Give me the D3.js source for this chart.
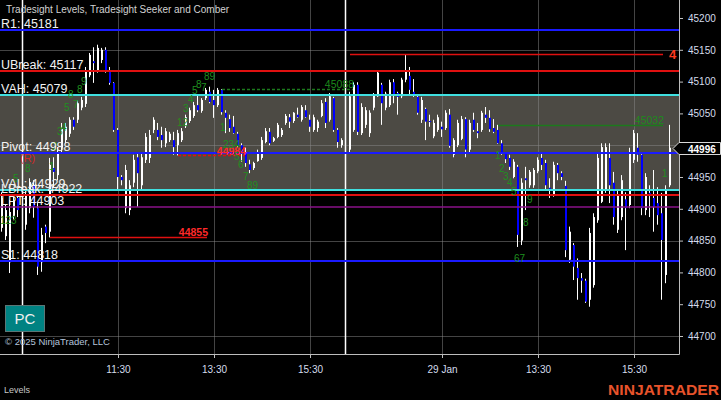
<!DOCTYPE html>
<html>
<head>
<meta charset="utf-8">
<script src="https://cdn.jsdelivr.net/npm/d3@7/dist/d3.min.js"></script>
<style>
html,body{margin:0;padding:0;background:#000;overflow:hidden}
svg{display:block;font-family:Arial,"Liberation Sans",sans-serif}
</style>
</head>
<body>
<svg id="chart" width="721" height="400"></svg>
<script>
// ---------------- data ----------------
const barIndex = [0,1,2,3,4,6,7,8,9,10,11,12,13,14,15,16,17,18,19,20,21,22,23,24,25,26,27,28,29,30,31,32,33,34,35,36,37,38,39,40,41,42,43,44,45,46,47,48,49,50,51,52,53,54,55,56,57,58,59,60,61,62,63,64,65,66,67,68,69,70,71,72,73,74,75,76,77,78,79,80,81,82,83,84,85,87,88,89,90,91,92,93,94,95,96,97,98,99,100,101,102,103,104,105,106,107,108,109,110,111,112,113,114,115,116,117,118,119,120,121,122,123,124,125,126,127,128,129,130,131,132,133,134,135,136,137,138,139,140,141,142,143,144,145,146,147,148,149,150,151,152,153,154,155,156,157,158,159,160,161,162,163,164,165,166,167];
const barOpen  = [44870,44857,44816,44889,44917,44875,44901,44937,44901,44816,44872,44864,44964,44953,44996,45008,45018,45040,45040,45059,45065,45110,45132,45118,45134,45150,45118,45098,45024,44950,44901,44898,44941,44981,44937,44977,44980,45024,45024,45016,45003,45008,45008,45000,45008,45030,45038,45046,45063,45054,45074,45084,45071,45063,45087,45051,45041,45029,45018,45000,44988,44970,44964,44975,44980,45005,45021,45007,45013,45016,45035,45044,45038,45048,45040,45055,45040,45024,45027,45046,45068,45040,45074,45024,45000,44993,45024,45095,45019,45032,45019,45059,45077,45095,45059,45063,45099,45082,45077,45103,45109,45084,45076,45040,45057,45038,45014,45024,45029,45027,45048,44985,45000,45010,45041,44993,45040,45022,45024,45048,45043,45027,45024,45003,44988,44980,44950,44966,44850,44948,44937,44937,44959,44980,44972,44933,44922,44969,44956,44936,44820,44843,44807,44791,44787,44757,44780,44882,44911,44930,44980,44941,44867,44887,44915,44906,44977,44996,44985,44898,44925,44917,44909,44893,44796,44937];
const barHigh  = [44926,44906,44914,44919,44922,44930,44948,44945,44909,44870,44875,44980,44981,44997,45035,45035,45044,45044,45071,45076,45123,45145,45154,45158,45153,45154,45123,45099,45027,44953,44969,44945,44985,44988,44988,45019,45024,45044,45035,45029,45027,45021,45021,45024,45027,45048,45059,45068,45079,45074,45090,45092,45087,45090,45088,45055,45048,45046,45021,45003,44996,44977,44974,44993,45013,45027,45027,45013,45035,45027,45049,45049,45052,45059,45063,45063,45048,45048,45040,45071,45074,45082,45076,45027,45011,45084,45099,45099,45066,45060,45055,45082,45118,45098,45084,45103,45104,45084,45106,45143,45123,45104,45079,45076,45059,45048,45040,45048,45037,45055,45057,45011,45040,45046,45044,45040,45051,45035,45054,45060,45055,45041,45032,45008,44989,44985,44978,44969,44948,44966,44961,44964,44981,44989,44977,44948,44974,44972,44959,44944,44872,44846,44822,44799,44790,44870,44893,44988,45003,45003,45003,44958,44930,44953,44926,44996,45024,45019,44988,44956,44937,44961,44934,44925,44937,45032];
const barLow   = [44864,44851,44799,44882,44887,44867,44893,44886,44796,44801,44846,44855,44934,44945,44988,45003,45013,45024,45035,45055,45060,45107,45098,45114,45129,45114,45095,45021,44930,44937,44893,44890,44934,44903,44930,44972,44972,45019,45008,44996,44997,45005,44985,44984,45005,45027,45035,45043,45052,45051,45071,45066,45043,45060,45048,45019,45021,45018,44996,44974,44966,44956,44961,44974,44977,45003,45000,45005,45011,45013,45032,45027,45035,45043,45037,45043,45021,45021,45021,45044,45027,45037,45021,44996,44996,44988,45021,45016,45016,45027,45013,45055,45076,45032,45055,45060,45066,45048,45074,45099,45079,45076,45048,45035,45008,45029,45011,45021,45013,45024,44996,44981,44997,45008,44981,44988,45021,45011,45021,45035,45021,45019,45002,44985,44972,44961,44948,44840,44843,44898,44933,44933,44956,44961,44930,44917,44919,44945,44945,44824,44815,44788,44757,44768,44752,44746,44776,44878,44909,44925,44909,44875,44862,44882,44835,44901,44972,44974,44890,44890,44887,44864,44875,44757,44783,44934];
const barClose = [44917,44898,44895,44914,44898,44922,44942,44903,44809,44859,44862,44969,44958,44989,45027,45029,45040,45029,45066,45071,45118,45142,45129,45153,45150,45118,45098,45024,44950,44945,44961,44937,44977,44956,44981,45013,45016,45040,45013,45008,45022,45018,44997,45019,45022,45044,45055,45063,45055,45071,45087,45068,45063,45087,45052,45043,45027,45019,44999,44988,44972,44961,44972,44989,45008,45022,45003,45011,45032,45024,45046,45037,45051,45044,45060,45044,45029,45044,45037,45066,45035,45077,45024,45005,45008,45077,45095,45021,45060,45055,45051,45079,45114,45066,45081,45099,45079,45076,45103,45118,45087,45079,45051,45071,45037,45037,45035,45044,45025,45051,44999,45008,45035,45041,44993,45035,45024,45019,45051,45043,45025,45021,45003,44989,44978,44966,44974,44859,44941,44945,44958,44961,44977,44969,44937,44928,44969,44956,44950,44835,44864,44809,44791,44787,44754,44862,44887,44980,44997,44997,44937,44887,44922,44945,44901,44989,45019,44985,44901,44950,44920,44903,44890,44851,44930,44996];

const priceTicks = [44700,44750,44800,44850,44900,44950,45050,45100,45150,45200];
const gridPrices = [44700,44850,45000,45150];
const timeTickIndex = [29,53,77,110,134,158];
const timeTickLabels = ["11:30","13:30","15:30","29 Jan","13:30","15:30"];
const sessionBreakIndex = [5,85.75];

const levelNames  = ["R1","UBreak","VAH","Pivot","VAL","LBreak","LPT","S1"];
const levelValues = [45181,45117,45079,44988,44929,44922,44903,44818];

const segStart = [12,44,55,124,87];
const segEnd   = [51.25,60.75,87.75,165.25,165.25];
const segValue = [44855,44984,45088,45032,45143];
const segLabel = ["44855","44984","45088","45032","4"];
const segKind  = ["red","redDash","greenDash","green","redNum"];

const countIndex = [-0.5,2.75,5.75,11.75,12.5,13.75,14.75,15.5,17.75,16.5,18.75,19.75,43.75,45.25,46.5,47.5,48.5,49.75,50.5,54.5,55.25,58,59,60.25,61.25,123.25,124.25,125.25,126.25,127.25,131.25,130.25,128,165];
const countPrice = [44876,44942,44958,44961,44993,45016,45022,45054,45059,45074,45082,45095,45030,45052,45066,45081,45090,45085,45103,45022,44996,44977,44964,44945,44931,44978,44958,44945,44936,44922,44909,44873,44816,44950];
const countText  = ["123","5","8","1","2","3","4","5","7","8","8","9","12","3","4","5","8","7","89","1","234","5","6","7","89","1","2","3","4","5","9","8","67","1"];

const lastPrice = 44996;
const titleText = "Tradesight Levels, Tradesight Seeker and Comber";

// ---------------- styles ----------------
const levelColor = {R1:"#1a1aff",UBreak:"#e01010",VAH:"#40e0e0",Pivot:"#1a1aff",VAL:"#40e0e0",LBreak:"#e01010",LPT:"#8a128a",S1:"#1a1aff"};
const segStyle = {
  red:{stroke:"#e01010",dash:null,text:"#ff2a2a",weight:"bold"},
  redDash:{stroke:"#e01010",dash:"3,2",text:"#ff2a2a",weight:"bold"},
  greenDash:{stroke:"#1c7a1c",dash:"3,2",text:"#1c8a1c",weight:"normal"},
  green:{stroke:"#1c7a1c",dash:null,text:"#1c8a1c",weight:"normal"},
  redNum:{stroke:"#e01010",dash:null,text:"#ff3a20",weight:"bold"}
};

// ---------------- drawing ----------------
const svg = d3.select("#chart");
const PR = 679, PB = 354;
const x = d3.scaleLinear().domain([-0.5,169.25]).range([0,PR]);
const y = d3.scaleLinear().domain([44700,45200]).range([336,18]);
const px = v => Math.round(v) + 0.5;

svg.append("rect").attr("width",721).attr("height",400).attr("fill","#000");

const plot = svg.append("g");
svg.append("defs").append("clipPath").attr("id","clip")
  .append("rect").attr("x",0).attr("y",0).attr("width",PR).attr("height",PB);
plot.attr("clip-path","url(#clip)");

// value area
const vah = levelValues[levelNames.indexOf("VAH")];
const val = levelValues[levelNames.indexOf("VAL")];
plot.append("rect").attr("x",0).attr("width",PR)
  .attr("y",y(vah)).attr("height",y(val)-y(vah)).attr("fill","#4c4a44");

// grid
plot.selectAll(".hg").data(gridPrices).enter().append("line")
  .attr("x1",0).attr("x2",PR).attr("y1",d=>px(y(d))).attr("y2",d=>px(y(d)))
  .attr("stroke","rgba(135,135,135,0.5)").attr("stroke-width",1);
plot.selectAll(".vg").data(timeTickIndex).enter().append("line")
  .attr("y1",0).attr("y2",PB).attr("x1",d=>px(x(d))).attr("x2",d=>px(x(d)))
  .attr("stroke","rgba(135,135,135,0.5)").attr("stroke-width",1);

// session breaks
plot.selectAll(".sb").data(sessionBreakIndex).enter().append("line")
  .attr("y1",0).attr("y2",PB).attr("x1",d=>Math.round(x(d))+0.5).attr("x2",d=>Math.round(x(d))+0.5)
  .attr("stroke","#ffffff").attr("stroke-width",1.5);

// candles
const bars = barIndex.map((b,k)=>({i:b,o:barOpen[k],h:barHigh[k],l:barLow[k],c:barClose[k]}));
const cg = plot.append("g");
bars.forEach(d=>{
  const cx = Math.round(x(d.i));
  cg.append("line").attr("x1",cx-0.5).attr("x2",cx-0.5)
    .attr("y1",y(d.h)).attr("y2",y(d.l)).attr("stroke","#ffffff").attr("stroke-width",1);
  const top = y(Math.max(d.o,d.c)), bot = y(Math.min(d.o,d.c));
  cg.append("rect").attr("x",cx-1).attr("width",2)
    .attr("y",top).attr("height",Math.max(1,bot-top))
    .attr("fill", d.c>=d.o ? "#ffffff" : "#0000ff");
});

// level lines
levelNames.forEach((n,k)=>{
  const yy = Math.round(y(levelValues[k]));
  plot.append("line").attr("x1",0).attr("x2",PR).attr("y1",yy).attr("y2",yy)
    .attr("stroke",levelColor[n]).attr("stroke-width", n==="LPT"?1.5:2);
});

// segments
segValue.forEach((v,k)=>{
  const st = segStyle[segKind[k]];
  const yy = Math.round(y(v)) + 0.5;
  const ln = plot.append("line").attr("x1",x(segStart[k])).attr("x2",x(segEnd[k]))
    .attr("y1",yy).attr("y2",yy).attr("stroke",st.stroke).attr("stroke-width",1.5);
  if(st.dash) ln.attr("stroke-dasharray",st.dash);
});
segValue.forEach((v,k)=>{
  const st = segStyle[segKind[k]];
  if(segKind[k]==="redNum"){
    svg.append("text").attr("x",x(segEnd[k])+6).attr("y",y(v)+5)
      .attr("fill",st.text).attr("font-size",13).attr("font-weight","bold").text(segLabel[k]);
  } else {
    svg.append("text").attr("x",x(segEnd[k])+1).attr("y",y(v)+(segKind[k]==="redDash"?0:-1))
      .attr("text-anchor","end").attr("fill",st.text).attr("font-size",10.5)
      .attr("font-weight",st.weight).text(segLabel[k]);
  }
});

// count numbers
countText.forEach((t,k)=>{
  svg.append("text").attr("x",x(countIndex[k])).attr("y",y(countPrice[k]))
    .attr("fill","#1f8f1f").attr("font-size",10).text(t);
});
svg.append("text").attr("x",20).attr("y",162).attr("fill","#d42a2a").attr("font-size",11).text("(R)");

// level labels
levelNames.forEach((n,k)=>{
  svg.append("text").attr("x",1).attr("y",y(levelValues[k])-2)
    .attr("fill","#f2f2f2").attr("font-size",12.5).text(n+": "+levelValues[k]);
});

// axes
const ra = svg.append("g").attr("transform",`translate(${PR},0)`)
  .call(d3.axisRight(y).tickValues(priceTicks).tickSize(4).tickPadding(5).tickFormat(d3.format("d")));
ra.select(".domain").remove();
ra.selectAll(".tick line").attr("stroke","#c0c0c0");
ra.selectAll(".tick text").attr("fill","#d4dcec").attr("font-size",10).attr("font-family","Arial,'Liberation Sans',sans-serif");

const ba = svg.append("g").attr("transform",`translate(0,${PB})`)
  .call(d3.axisBottom(x).tickValues(timeTickIndex).tickSize(4).tickPadding(8).tickFormat((d,i)=>timeTickLabels[i]));
ba.select(".domain").remove();
ba.selectAll(".tick line").attr("stroke","#c0c0c0");
ba.selectAll(".tick text").attr("fill","#d4dcec").attr("font-size",10).attr("font-family","Arial,'Liberation Sans',sans-serif");

svg.append("line").attr("x1",PR+0.5).attr("x2",PR+0.5).attr("y1",0).attr("y2",PB+0.5).attr("stroke","#bdbdbd");
svg.append("line").attr("x1",0).attr("x2",PR+0.5).attr("y1",PB+0.5).attr("y2",PB+0.5).attr("stroke","#bdbdbd");

// last price marker
const ly = Math.round(y(lastPrice));
svg.append("path").attr("d",`M${PR-6},${ly+0.5} L${PR},${ly-5.5} L720.5,${ly-5.5} L720.5,${ly+6.5} L${PR},${ly+6.5} Z`)
  .attr("fill","#000").attr("stroke","#d8d8d8").attr("stroke-width",1);
svg.append("text").attr("x",688).attr("y",ly+4.5).attr("fill","#ffffff").attr("font-size",10).attr("font-weight","bold").text(lastPrice);

// title & misc
svg.append("text").attr("x",6).attr("y",13).attr("fill","#d2d2d2").attr("font-size",10).text(titleText);
svg.append("rect").attr("x",5.5).attr("y",305.5).attr("width",39).attr("height",26)
  .attr("fill","#008282").attr("stroke","#5c7676");
svg.append("text").attr("x",25).attr("y",324).attr("text-anchor","middle").attr("fill","#f0f0f0").attr("font-size",15).text("PC");
svg.append("text").attr("x",5).attr("y",345).attr("fill","#b4c4dc").attr("font-size",9.5).text("© 2025 NinjaTrader, LLC");
svg.append("text").attr("x",4).attr("y",393).attr("fill","#c8c8c8").attr("font-size",9).text("Levels");
svg.append("text").attr("x",608).attr("y",395).attr("fill","#e8532b").attr("font-size",15).attr("font-weight","bold")
  .attr("textLength",111).attr("lengthAdjust","spacingAndGlyphs").text("NINJATRADER");
</script>
</body>
</html>
